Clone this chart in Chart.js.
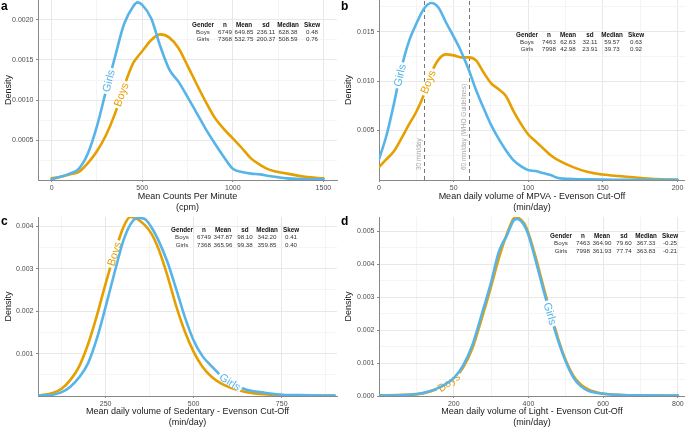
<!DOCTYPE html>
<html>
<head>
<meta charset="utf-8">
<script src="https://cdn.jsdelivr.net/npm/chart.js@4.4.0/dist/chart.umd.min.js"></script>
<style>
  html, body { margin: 0; padding: 0; background: #fff; }
  #wrap { position: relative; width: 685px; height: 428px; overflow: hidden; background: #fff; }
  canvas { position: absolute; }
</style>
</head>
<body>
<div id="wrap">
  <canvas id="chartA" width="340" height="213" style="left:0;top:0"></canvas>
  <canvas id="chartB" width="345" height="213" style="left:340px;top:0"></canvas>
  <canvas id="chartC" width="340" height="215" style="left:0;top:213px"></canvas>
  <canvas id="chartD" width="345" height="215" style="left:340px;top:213px"></canvas>
</div>
<script>
const FONT = '"Liberation Sans", Arial, sans-serif';
const BOYS_COL = "#E69F00";
const GIRLS_COL = "#56B4E9";

const tableHead = ["Gender", "n", "Mean", "sd", "Median", "Skew"];

// a - mean counts per minute
const cpmX = [0, 50, 100, 150, 200, 250, 300, 350, 400, 450, 475, 500, 550, 600, 650, 700, 750, 800, 850, 900, 950, 1000, 1050, 1100, 1150, 1200, 1300, 1400, 1500];
const cpmBoys = [0.00002, 0.00004, 0.00007, 0.0001, 0.00021, 0.00036, 0.00056, 0.00083, 0.00117, 0.00146, 0.00154, 0.00161, 0.00175, 0.00182, 0.00178, 0.00165, 0.00143, 0.0012, 0.00098, 0.00078, 0.00064, 0.00052, 0.0004, 0.00027, 0.00019, 0.00013, 0.00008, 0.00004, 0.00002];
const cpmGirls = [0.00001, 0.00004, 0.00008, 0.00014, 0.00033, 0.00067, 0.00111, 0.00154, 0.00195, 0.00217, 0.00222, 0.00219, 0.00202, 0.00167, 0.00138, 0.00123, 0.00104, 0.00084, 0.00064, 0.00046, 0.00029, 0.00014, 0.0001, 0.00008, 0.00007, 0.00005, 0.00002, 0.00001, 0.00001];
const cpmTable = [["Boys", "6749", "649.85", "236.11", "628.38", "0.48"], ["Girls", "7368", "532.75", "200.37", "508.59", "0.76"]];
const cpmTicks = [0, 500, 1000, 1500];
const cpmMinor = [250, 750, 1250];
const cpmDensTicks = [0.0005, 0.001, 0.0015, 0.002];
const cpmDensMinor = [0.00025, 0.00075, 0.00125, 0.00175];

// b - MVPA
const mvpaX = [0, 5, 10, 15, 20, 25, 30, 35, 40, 45, 50, 55, 60, 65, 70, 75, 80, 85, 90, 95, 100, 105, 110, 115, 120, 130, 140, 150, 160, 170, 180, 190, 200];
const mvpaBoys = [0.0013, 0.0021, 0.0029, 0.0042, 0.0056, 0.0069, 0.0086, 0.0108, 0.0122, 0.0127, 0.0126, 0.0124, 0.0124, 0.0121, 0.0109, 0.0098, 0.0092, 0.0085, 0.007, 0.0057, 0.0046, 0.0039, 0.0032, 0.0025, 0.002, 0.0013, 0.0008, 0.00055, 0.0004, 0.00028, 0.00015, 0.00007, 0.00003];
const mvpaGirls = [0.0021, 0.0045, 0.0077, 0.0113, 0.014, 0.0158, 0.0173, 0.0179, 0.0174, 0.0159, 0.0145, 0.013, 0.0112, 0.0091, 0.0073, 0.0056, 0.0042, 0.003, 0.002, 0.0014, 0.001, 0.0009, 0.0007, 0.0005, 0.0002, 0.0001, 0.00006, 0.00004, 0.00003, 0.00002, 0.00002, 0.00002, 0.00002];
const mvpaTable = [["Boys", "7463", "62.63", "32.11", "59.57", "0.63"], ["Girls", "7998", "42.98", "23.91", "39.73", "0.92"]];
const mvpaTicks = [0, 50, 100, 150, 200];
const mvpaMinor = [25, 75, 125, 175];
const mvpaDensTicks = [0.005, 0.01, 0.015];
const mvpaDensMinor = [0.0025, 0.0075, 0.0125, 0.0175];
const mvpaCutoffs = [30, 60];
const mvpaCutoffLabels = ["30 min/day", "60 min/day (WHO Guidelines)"];

// c - sedentary
const sedX = [60, 100, 125, 150, 175, 200, 225, 250, 275, 300, 320, 340, 360, 380, 400, 425, 450, 475, 500, 525, 550, 575, 600, 625, 650, 700, 750, 800, 900];
const sedBoys = [0.00001, 0.00007, 0.00017, 0.00038, 0.0007, 0.00122, 0.00189, 0.00265, 0.00335, 0.00397, 0.00422, 0.00417, 0.00404, 0.00383, 0.00347, 0.00285, 0.00213, 0.00152, 0.00104, 0.00069, 0.00046, 0.00031, 0.00021, 0.00014, 0.00009, 0.00004, 0.00002, 0.00001, 0.00001];
const sedGirls = [0.00001, 0.00003, 0.00009, 0.00022, 0.00044, 0.00077, 0.00135, 0.0021, 0.0029, 0.00365, 0.00404, 0.0042, 0.00418, 0.00398, 0.00367, 0.00317, 0.00253, 0.00186, 0.00131, 0.00094, 0.00071, 0.0005, 0.00034, 0.00023, 0.00015, 0.00008, 0.00003, 0.00002, 0.00001];
const sedTable = [["Boys", "6749", "347.87", "98.10", "342.20", "0.41"], ["Girls", "7368", "365.96", "99.38", "359.85", "0.40"]];
const sedTicks = [250, 500, 750];
const sedMinor = [125, 375, 625, 875];
const sedDensTicks = [0.001, 0.002, 0.003, 0.004];
const sedDensMinor = [0.0005, 0.0015, 0.0025, 0.0035];

// d - light
const lightX = [0, 50, 100, 125, 150, 175, 200, 225, 250, 275, 300, 320, 330, 340, 350, 360, 370, 380, 390, 400, 420, 440, 460, 480, 500, 520, 540, 560, 580, 600, 650, 700, 800];
const lightBoys = [0.00002, 0.00003, 0.00005, 0.0001, 0.00019, 0.00032, 0.00051, 0.00086, 0.00145, 0.00235, 0.00332, 0.00415, 0.00452, 0.00484, 0.00514, 0.00538, 0.00541, 0.00535, 0.00521, 0.00494, 0.00418, 0.00332, 0.0025, 0.00172, 0.00108, 0.00062, 0.00035, 0.0002, 0.00012, 0.00007, 0.00003, 0.00002, 0.00001];
const lightGirls = [0.00001, 0.00002, 0.00006, 0.00011, 0.0002, 0.00034, 0.00054, 0.00092, 0.00155, 0.00248, 0.00345, 0.00435, 0.00462, 0.00482, 0.00508, 0.00532, 0.00537, 0.00531, 0.00515, 0.00488, 0.00408, 0.00322, 0.00242, 0.00166, 0.00104, 0.00057, 0.0003, 0.00016, 0.0001, 0.00007, 0.00003, 0.00002, 0.00001];
const lightTable = [["Boys", "7463", "364.90", "79.60", "367.33", "-0.25"], ["Girls", "7998", "361.93", "77.74", "363.83", "-0.21"]];
const lightTicks = [200, 400, 600, 800];
const lightMinor = [100, 300, 500, 700];
const lightDensTicks = [0, 0.001, 0.002, 0.003, 0.004, 0.005];
const lightDensMinor = [0.0005, 0.0015, 0.0025, 0.0035, 0.0045];

const colOffsets = [0, 22, 41, 63, 85, 109];

// y on the drawn polyline for a given x (linear between points)
const interpY = (pts, xv) => {
  for (let i = 1; i < pts.length; i++) {
    if (xv <= pts[i].x) {
      const a = pts[i - 1], b = pts[i];
      return a.y + (b.y - a.y) * (xv - a.x) / (b.x - a.x);
    }
  }
  return pts[pts.length - 1].y;
};

const drawCurveLabel = (chart, ds, xv) => {
  const { ctx, scales: { x, y } } = chart;
  const px = x.getPixelForValue(xv);
  const py = y.getPixelForValue(interpY(ds.data, xv));
  const l = x.getValueForPixel(px - 7), r = x.getValueForPixel(px + 7);
  const ang = Math.atan2(
    y.getPixelForValue(interpY(ds.data, r)) - y.getPixelForValue(interpY(ds.data, l)), 14);
  ctx.save();
  ctx.translate(px, py);
  ctx.rotate(ang);
  ctx.font = "11px " + FONT;
  const w = ctx.measureText(ds.label).width;
  ctx.fillStyle = "#fff";
  ctx.fillRect(-w / 2 - 2, -3.5, w + 4, 7);
  ctx.fillStyle = ds.borderColor;
  ctx.textAlign = "center";
  ctx.textBaseline = "middle";
  ctx.fillText(ds.label, 0, 0.5);
  ctx.restore();
};

const decor = (cfg) => ({
  id: "decor",
  beforeDatasetsDraw(chart) {
    if (!cfg.cutoffs) return;
    const { ctx, chartArea, scales: { x, y } } = chart;
    cfg.cutoffs.forEach((c, i) => {
      const px = Math.round(x.getPixelForValue(c)) + 0.5;
      ctx.save();
      ctx.strokeStyle = "#777";
      ctx.lineWidth = 1;
      ctx.setLineDash([4, 3]);
      ctx.beginPath();
      ctx.moveTo(px, chartArea.bottom);
      ctx.lineTo(px, chartArea.top);
      ctx.stroke();
      ctx.translate(px - 5, y.getPixelForValue(0.001));
      ctx.rotate(-Math.PI / 2);
      ctx.font = "6.5px " + FONT;
      ctx.fillStyle = "#a8a8a8";
      ctx.textAlign = "left";
      ctx.textBaseline = "middle";
      ctx.fillText(cfg.cutoffLabels[i], 0, 0);
      ctx.restore();
    });
  },
  afterDatasetDraw(chart, args) {
    const ds = chart.data.datasets[args.index];
    drawCurveLabel(chart, ds, cfg.labelAt[ds.label]);
  },
  afterDraw(chart) {
    const { ctx } = chart;
    ctx.save();
    ctx.textAlign = "center";
    ctx.textBaseline = "middle";
    ctx.font = "bold 6.3px " + FONT;
    ctx.fillStyle = "#111";
    tableHead.forEach((h, i) => ctx.fillText(h, cfg.table.x + colOffsets[i], cfg.table.y));
    ctx.font = "6.2px " + FONT;
    ctx.fillStyle = "#333";
    cfg.rows.forEach((row, j) => row.forEach((c, i) =>
      ctx.fillText(c, cfg.table.x + colOffsets[i], cfg.table.y + (j + 1) * 7.3)));
    ctx.font = "bold 12px " + FONT;
    ctx.fillStyle = "#000";
    ctx.textAlign = "left";
    ctx.textBaseline = "alphabetic";
    ctx.fillText(cfg.letter, 1, cfg.letterY);
    ctx.restore();
  },
});

const lockBox = (prop, size) => (scale) => {
  scale[prop] = size;
  scale.paddingLeft = scale.paddingRight = scale.paddingTop = scale.paddingBottom = 0;
};

const densityChart = (id, cfg) => {
  const toPts = (ys) => cfg.xs.map((x, i) => ({ x, y: ys[i] }));
  const xMajor = new Set(cfg.xTicks), yMajor = new Set(cfg.yTicks);
  const sorted = (a, b) => [...a, ...b].sort((p, q) => p - q).map((v) => ({ value: v }));
  const axisGrid = (major) => ({
    drawTicks: true,
    tickLength: 2,
    tickColor: (c) => (c.tick && major.has(c.tick.value) ? "#888" : "rgba(0,0,0,0)"),
    color: (c) => (c.tick && major.has(c.tick.value) ? "#e8e8e8" : "#f4f4f4"),
  });
  return new Chart(document.getElementById(id), {
    type: "line",
    data: {
      datasets: [
        { label: "Boys", data: toPts(cfg.boys), borderColor: BOYS_COL, order: 1 },
        { label: "Girls", data: toPts(cfg.girls), borderColor: GIRLS_COL, order: 0 },
      ],
    },
    options: {
      responsive: false,
      animation: false,
      events: [],
      layout: { padding: { top: cfg.padTop, right: cfg.padRight, left: 0, bottom: 0 } },
      elements: {
        line: { borderWidth: 2.6, cubicInterpolationMode: "monotone", fill: false, borderCapStyle: "round", borderJoinStyle: "round" },
        point: { radius: 0 },
      },
      plugins: { legend: { display: false }, tooltip: { enabled: false } },
      scales: {
        x: {
          type: "linear",
          min: cfg.xMin,
          max: cfg.xMax,
          afterBuildTicks: (s) => { s.ticks = sorted(cfg.xTicks, cfg.xMinor); },
          afterFit: lockBox("height", cfg.xAxisH),
          border: { display: true, color: "#888", width: 1 },
          grid: axisGrid(xMajor),
          ticks: {
            autoSkip: false,
            maxRotation: 0,
            padding: 1.5,
            color: "#4d4d4d",
            font: { family: FONT, size: 7 },
            callback: (v) => (xMajor.has(v) ? String(v) : ""),
          },
          title: {
            display: true,
            text: cfg.xTitle,
            color: "#1a1a1a",
            font: { family: FONT, size: 9, lineHeight: 1.25 },
            padding: { top: 0, bottom: 0 },
          },
        },
        y: {
          type: "linear",
          min: 0,
          max: cfg.yMax,
          afterBuildTicks: (s) => { s.ticks = sorted(cfg.yTicks, cfg.yMinor); },
          afterFit: lockBox("width", cfg.yAxisW),
          border: { display: true, color: "#888", width: 1 },
          grid: axisGrid(yMajor),
          ticks: {
            autoSkip: false,
            padding: 2.5,
            color: "#4d4d4d",
            font: { family: FONT, size: 7 },
            callback: (v) => (yMajor.has(v) ? v.toFixed(cfg.yDigits) : ""),
          },
          title: {
            display: true,
            text: "Density",
            color: "#1a1a1a",
            font: { family: FONT, size: 9, lineHeight: 1.25 },
            padding: { top: 2.7, bottom: 0 },
          },
        },
      },
    },
    plugins: [decor(cfg)],
  });
};

densityChart("chartA", {
  letter: "a", letterY: 10,
  xs: cpmX, boys: cpmBoys, girls: cpmGirls, rows: cpmTable,
  xMin: -75, xMax: 1575, xTicks: cpmTicks, xMinor: cpmMinor,
  yMax: 0.00225, yTicks: cpmDensTicks, yMinor: cpmDensMinor, yDigits: 4,
  xTitle: ["Mean Counts Per Minute", "(cpm)"],
  padTop: 0, padRight: 3, xAxisH: 33, yAxisW: 38,
  labelAt: { Boys: 385, Girls: 315 },
  table: { x: 203, y: 25 },
});

densityChart("chartB", {
  letter: "b", letterY: 10,
  xs: mvpaX, boys: mvpaBoys, girls: mvpaGirls, rows: mvpaTable,
  xMin: 0, xMax: 205, xTicks: mvpaTicks, xMinor: mvpaMinor,
  yMax: 0.0182, yTicks: mvpaDensTicks, yMinor: mvpaDensMinor, yDigits: 3,
  xTitle: ["Mean daily volume of MPVA - Evenson Cut-Off", "(min/day)"],
  padTop: 0, padRight: 0, xAxisH: 33, yAxisW: 39,
  labelAt: { Boys: 33, Girls: 14 },
  cutoffs: mvpaCutoffs, cutoffLabels: mvpaCutoffLabels,
  table: { x: 187, y: 35 },
});

densityChart("chartC", {
  letter: "c", letterY: 11.7,
  xs: sedX, boys: sedBoys, girls: sedGirls, rows: sedTable,
  xMin: 58, xMax: 907, xTicks: sedTicks, xMinor: sedMinor,
  yMax: 0.00422, yTicks: sedDensTicks, yMinor: sedDensMinor, yDigits: 3,
  xTitle: ["Mean daily volume of Sedentary - Evenson Cut-Off", "(min/day)"],
  padTop: 4, padRight: 3, xAxisH: 32, yAxisW: 38,
  labelAt: { Boys: 275, Girls: 603 },
  table: { x: 182, y: 17.3 },
});

densityChart("chartD", {
  letter: "d", letterY: 11.7,
  xs: lightX, boys: lightBoys, girls: lightGirls, rows: lightTable,
  xMin: 0, xMax: 819, xTicks: lightTicks, xMinor: lightMinor,
  yMax: 0.00543, yTicks: lightDensTicks, yMinor: lightDensMinor, yDigits: 3,
  xTitle: ["Mean daily volume of Light - Evenson Cut-Off", "(min/day)"],
  padTop: 4, padRight: 0, xAxisH: 32, yAxisW: 39,
  labelAt: { Boys: 187, Girls: 458 },
  table: { x: 221, y: 23.3 },
});
</script>
</body>
</html>
